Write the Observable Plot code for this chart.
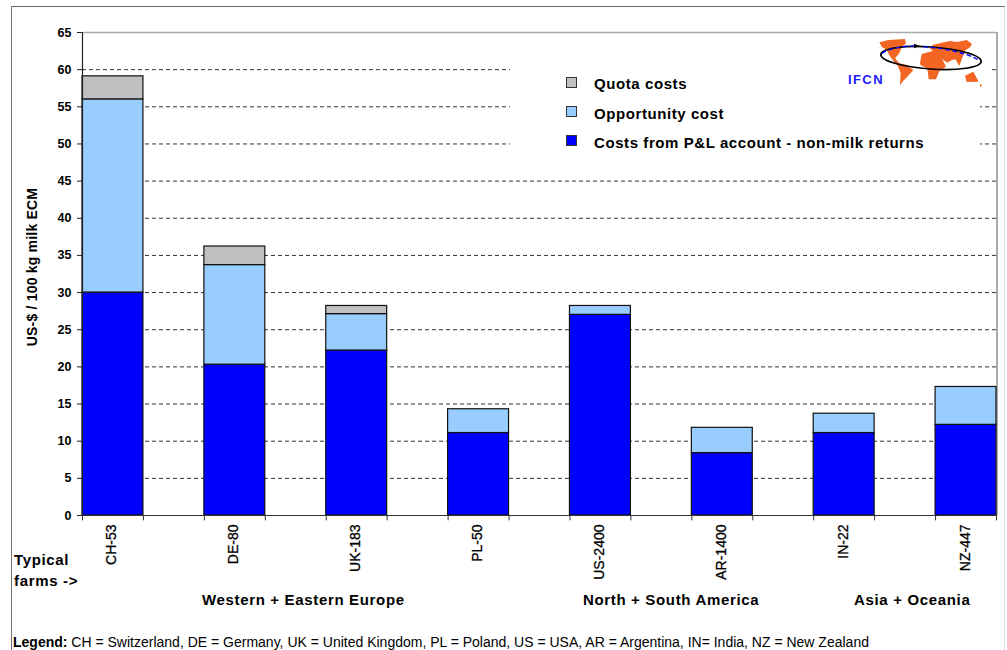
<!DOCTYPE html>
<html><head><meta charset="utf-8">
<script src="https://cdn.jsdelivr.net/npm/d3@7"></script>
<script src="https://cdn.jsdelivr.net/npm/@observablehq/plot@0.6"></script>
<style>
html,body{margin:0;padding:0;background:#fff;overflow:hidden}
#wrap{position:relative;width:1007px;height:650px;font-family:"Liberation Sans",Arial,sans-serif;color:#000}
#wrap svg{display:block}
.t{position:absolute;white-space:nowrap;line-height:1}
.sw{position:absolute;width:9px;height:9px;border:1px solid #333}
g[aria-label="x-axis tick label"] text{stroke:#000;stroke-width:.3px}
</style></head><body>
<div id="wrap"></div>
<script>
const farms = ["CH-53","DE-80","UK-183","PL-50","US-2400","AR-1400","IN-22","NZ-447"];
const plAccount = [30, 20.3, 22.2, 11.1, 27, 8.4, 11.1, 12.2];
const opportunity = [26, 13.4, 4.9, 3.2, 1.2, 3.4, 2.6, 5.1];
const quota = [3.1, 2.5, 1.1, 0, 0, 0, 0, 0];
const seriesNames = ["Costs from P&L account - non-milk returns","Opportunity cost","Quota costs"];
const seriesColors = ["#0000ff","#99ccff","#c0c0c0"];
const yTicks = d3.range(0, 70, 5);
const gridTicks = d3.range(5, 65, 5);

const rows = farms.flatMap((farm, i) => [plAccount, opportunity, quota].map((s, j) => ({farm, series: seriesNames[j], value: s[i]}))).filter(d => d.value > 0);

const halfBar = 30.47;
const chart = Plot.plot({
  width: 1007, height: 650,
  marginLeft: 82, marginRight: 11, marginTop: 32, marginBottom: 135,
  style: {fontFamily: '"Liberation Sans",Arial,sans-serif', background: "transparent", color: "#000"},
  x: {domain: farms, paddingInner: 0.5, paddingOuter: 0, round: false, label: null},
  y: {domain: [0, 65], label: null},
  color: {domain: seriesNames, range: seriesColors},
  marks: [
    Plot.ruleY(gridTicks, {stroke: "#333", strokeWidth: 1, strokeDasharray: "4 3"}),
    Plot.ruleY([65], {stroke: "#aaa", strokeWidth: 1.5}),
    Plot.ruleX(["NZ-447"], {dx: halfBar + 0.5, y1: 0, y2: 65, stroke: "#aaa", strokeWidth: 2}),
    Plot.barY(rows, {x: "farm", y: "value", fill: "series", stroke: "#111", strokeWidth: 1.2, order: seriesNames}),
    Plot.ruleY([0], {stroke: "#333", strokeWidth: 1.2}),
    Plot.ruleX(farms, {dx: -halfBar, y1: 0, y2: -0.72, stroke: "#333"}),
    Plot.ruleX(farms, {dx: halfBar, y1: 0, y2: -0.72, stroke: "#333"}),
    Plot.axisY({ticks: yTicks, tickSize: 5, tickPadding: 6, fontSize: 12.5, fontWeight: 700, stroke: "#222", label: null}),
    Plot.ruleX(["CH-53"], {dx: -halfBar, y1: 0, y2: 65, stroke: "#222", strokeWidth: 1.2}),
    Plot.axisX({tickSize: 0, tickRotate: -90, tickPadding: 9, fontSize: 14, textAnchor: "end", label: null, dx: -1})
  ]
});
const wrap = document.getElementById("wrap");
wrap.appendChild(chart);

function add(html, style, cls){const d=document.createElement("div");d.className=cls||"t";d.style.cssText=style;d.innerHTML=html;wrap.appendChild(d);return d;}
// outer frame
add("", "position:absolute;left:11px;top:6px;width:994px;height:644px;border-top:1.5px solid #666;border-left:1.5px solid #777;border-right:1px solid #ddd;box-sizing:border-box");
// legend panel
add("", "position:absolute;left:510px;top:60px;width:470px;height:100px;background:#fff");
add("", "position:absolute;left:980px;top:60px;width:11px;height:16px;background:#fff");
const legendY=[83,113,142], legendSw=[82,111,140];
[2,1,0].forEach((s,i)=>{
  add("", `left:566px;top:${legendSw[i]-5}px;background:${seriesColors[s]}`, "sw");
  add(seriesNames[s], `left:594px;top:${legendY[i]-7}px;font-size:15px;font-weight:700;letter-spacing:.58px`, "t");
});
// logo
wrap.insertAdjacentHTML("beforeend", `<svg style="position:absolute;left:870px;top:30px;z-index:5" width="137" height="70" viewBox="0 0 411 210">
<g fill="#f26522" stroke="none">
<path d="M28 37L55 30L105 27L108 40L95 52L88 70L75 85L88 100L108 104L130 120L112 140L100 152L90 166L92 130L84 108L70 92L58 76L50 60L35 50Z"/>
<path d="M150 100L155 72L190 62L215 84L228 110L208 124L198 148L176 148L172 115L152 106Z"/>
<path d="M188 45L215 38L240 33L262 36L290 30L306 42L300 52L284 62L278 80L268 108L256 88L246 90L232 98L212 84L190 64L180 56Z"/>
<path d="M285 137L310 125L326 155L290 156Z"/>
<path d="M330 162h4v8h-4Z"/>
</g>
<g transform="rotate(4 183 84)">
<ellipse cx="183" cy="84" rx="151" ry="33" fill="none" stroke="#000" stroke-width="5"/>
</g>
<path d="M36 70Q70 48 135 48" fill="none" stroke="#00f" stroke-width="4" stroke-dasharray="14 8"/>
<path d="M160 50Q270 58 330 92" fill="none" stroke="#00f" stroke-width="4" stroke-dasharray="14 8"/>
<path d="M132 41L150 48L132 55Z" fill="#000"/>
</svg>`);
add("IFCN","left:848px;top:73px;font-size:13px;font-weight:700;color:#2020ff;letter-spacing:1.4px");
// axis title
add("US-$ / 100 kg milk ECM","left:32px;top:267px;font-size:14px;font-weight:700;letter-spacing:.2px;transform:translate(-50%,-50%) rotate(-90deg)");
// annotations
const groupStyle="font-size:15px;font-weight:700;letter-spacing:.66px";
add("Typical",`left:14px;top:552px;${groupStyle}`);
add("farms -&gt;",`left:14px;top:573px;${groupStyle}`);
add("Western + Eastern Europe",`left:202px;top:592px;${groupStyle}`);
add("North + South America",`left:583px;top:592px;${groupStyle}`);
add("Asia + Oceania",`left:854px;top:592px;${groupStyle}`);
add('<b>Legend:</b> CH = Switzerland, DE = Germany, UK = United Kingdom, PL = Poland, US = USA, AR = Argentina, IN= India, NZ = New Zealand',"left:13px;top:635px;font-size:14px");
</script>
</body></html>
